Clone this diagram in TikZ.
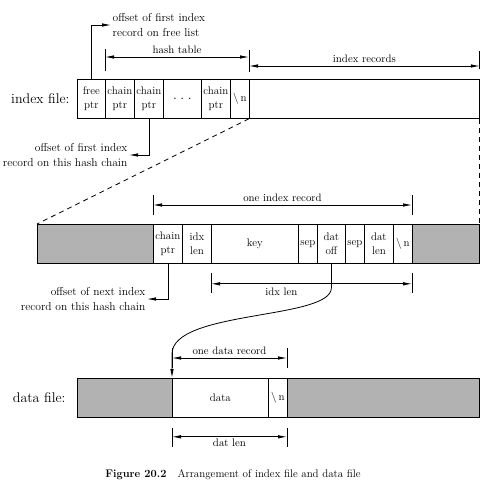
\documentclass[tikz,border=0pt]{standalone}
\usepackage{tikz}
\usetikzlibrary{arrows.meta, positioning, calc}

\tikzset{
  cell/.style={draw, line width=0.8pt, anchor=north west, inner sep=0pt,
    minimum height=39pt, align=center, font=\fontsize{11}{14}\selectfont},
  grayblock/.style={fill=black!30},
  dimline/.style={line width=0.8pt,
    {Latex[length=9pt,width=3.5pt]}-{Latex[length=9pt,width=3.5pt]}},
  dimtick/.style={line width=0.8pt},
  ptr/.style={line width=0.8pt, -{Latex[length=9pt,width=3.5pt]}},
  notetext/.style={font=\fontsize{11.5}{14.5}\selectfont, inner sep=1.5pt},
  spantext/.style={font=\fontsize{10.8}{14.5}\selectfont},
  zoomline/.style={line width=0.8pt, dash pattern=on 5pt off 4pt},
}

\begin{document}
\begin{tikzpicture}[x=1pt,y=-1pt]
\useasboundingbox (0,0) rectangle (499,485);

% ------------------------
% Index file
% ------------------------
\node[cell, minimum width=28pt] (ifree) at (77,79) {free\\ptr};
\node[cell, minimum width=29pt] (ichaina) at (105,79) {chain\\ptr};
\node[cell, minimum width=29pt] (ichainb) at (134,79) {chain\\ptr};
\node[cell, minimum width=38pt] (idots) at (163,79)
  {\fontsize{14}{14}\selectfont .\hspace{3.5pt}.\hspace{3.5pt}.};
\node[cell, minimum width=29pt] (ichainc) at (201,79) {chain\\ptr};
\node[cell, minimum width=19pt] (inl) at (230,79) {\textbackslash\,n};
\node[cell, minimum width=230pt] (irecs) at (249,79) {};
\node[left=4pt of ifree, font=\fontsize{14}{16}\selectfont] (ilabel) {index file:};

% free list pointer
\node[notetext, anchor=west, align=left] (freenote) at (111,25)
  {offset of first index\\record on free list};
\draw[ptr] (ifree.north) |- (freenote.west);

% hash table / index records spans
\draw[dimtick] ($(ichaina.north west)+(0,-8)$) -- ++(0,-22);
\draw[dimtick] ($(irecs.north west)+(0,-7)$) -- ++(0,-22);
\draw[dimtick] ($(irecs.north east)+(0,-10)$) -- ++(0,-18);
\coordinate (hta) at ($(ichaina.north west)+(0,-22)$);
\coordinate (htb) at ($(irecs.north west)+(0,-22)$);
\draw[dimline] (hta) -- node[above, spantext] (htlabel) {hash table} (htb);
\coordinate (ira) at ($(irecs.north west)+(0,-13)$);
\coordinate (irb) at ($(irecs.north east)+(0,-13)$);
\draw[dimline] (ira) -- node[above, spantext] (irlabel) {index records} (irb);

% hash chain pointer
\node[notetext, anchor=east, align=right] (hashnote) at (129,155)
  {offset of first index\\record on this hash chain};
\draw[ptr] (ichainb.south) |- (hashnote.east);

% ------------------------
% One index record
% ------------------------
\node[cell, grayblock, minimum width=116pt] (rleft) at (37,224) {};
\node[cell, minimum width=29pt] (rchain) at (153,224) {chain\\ptr};
\node[cell, minimum width=29pt] (ridx) at (182,224) {idx\\len};
\node[cell, minimum width=87pt] (rkey) at (211,224) {key};
\node[cell, minimum width=19pt] (rsepa) at (298,224) {sep};
\node[cell, minimum width=28pt] (rdatoff) at (317,224) {dat\\off};
\node[cell, minimum width=19pt] (rsepb) at (345,224) {sep};
\node[cell, minimum width=29pt] (rdatlen) at (364,224) {dat\\len};
\node[cell, minimum width=19pt] (rnl) at (393,224) {\textbackslash\,n};
\node[cell, grayblock, minimum width=67pt] (rright) at (412,224) {};

% zoom lines
\draw[zoomline] (irecs.south west) -- (rleft.north west);
\draw[zoomline] (irecs.south east) -- (rright.north east);

% one index record span
\draw[dimtick] ($(rchain.north west)+(0,-9)$) -- ++(0,-20);
\draw[dimtick] ($(rright.north west)+(0,-9)$) -- ++(0,-20);
\coordinate (oira) at ($(rchain.north west)+(0,-19)$);
\coordinate (oirb) at ($(rright.north west)+(0,-19)$);
\draw[dimline] (oira) -- node[above, spantext] (oirlabel) {one index record} (oirb);

% idx len span
\draw[dimtick] ($(rkey.south west)+(0,9)$) -- ++(0,20);
\draw[dimtick] ($(rright.south west)+(0,9)$) -- ++(0,20);
\coordinate (ila) at ($(rkey.south west)+(0,20)$);
\coordinate (ilb) at ($(rright.south west)+(0,20)$);
\draw[dimline] (ila) -- node[below, pos=0.35, spantext] (illabel) {idx len} (ilb);

% next record pointer
\node[notetext, anchor=east, align=right] (nextnote) at (147,299)
  {offset of next index\\record on this hash chain};
\draw[ptr] (rchain.south) |- (nextnote.east);

% ------------------------
% Data file
% ------------------------
\node[cell, grayblock, minimum width=95pt] (dleft) at (77,378) {};
\node[cell, minimum width=96pt] (ddata) at (172,378) {data};
\node[cell, minimum width=19pt] (dnl) at (268,378) {\textbackslash\,n};
\node[cell, grayblock, minimum width=192pt] (dright) at (287,378) {};
\node[left=8pt of dleft, font=\fontsize{14}{16}\selectfont] (dlabel) {data file:};

% one data record span
\draw[dimtick] ($(ddata.north west)+(0,-10)$) -- ++(0,-20);
\draw[dimtick] ($(dright.north west)+(0,-10)$) -- ++(0,-20);
\coordinate (odra) at ($(ddata.north west)+(0,-20)$);
\coordinate (odrb) at ($(dright.north west)+(0,-20)$);
\draw[dimline] (odra) -- node[above, spantext] (odrlabel) {one data record} (odrb);

% dat len span
\draw[dimtick] ($(ddata.south west)+(0,10)$) -- ++(0,19);
\draw[dimtick] ($(dright.south west)+(0,10)$) -- ++(0,19);
\coordinate (dla) at ($(ddata.south west)+(0,19)$);
\coordinate (dlb) at ($(dright.south west)+(0,19)$);
\draw[dimline] (dla) -- node[below, spantext, inner sep=1.5pt] (dllabel) {dat len} (dlb);

% data offset pointer
\draw[ptr] (rdatoff.south) -- ++(0,24)
  .. controls +(0,32) and ($(ddata.north west)+(0,-68)$) ..
  ($(ddata.north west)+(0,-24)$) -- (ddata.north west);

% caption
\node[font=\fontsize{11}{13}\selectfont] (caption) at (233,475)
  {\textbf{Figure 20.2}\quad Arrangement of index file and data file};

\end{tikzpicture}
\end{document}
